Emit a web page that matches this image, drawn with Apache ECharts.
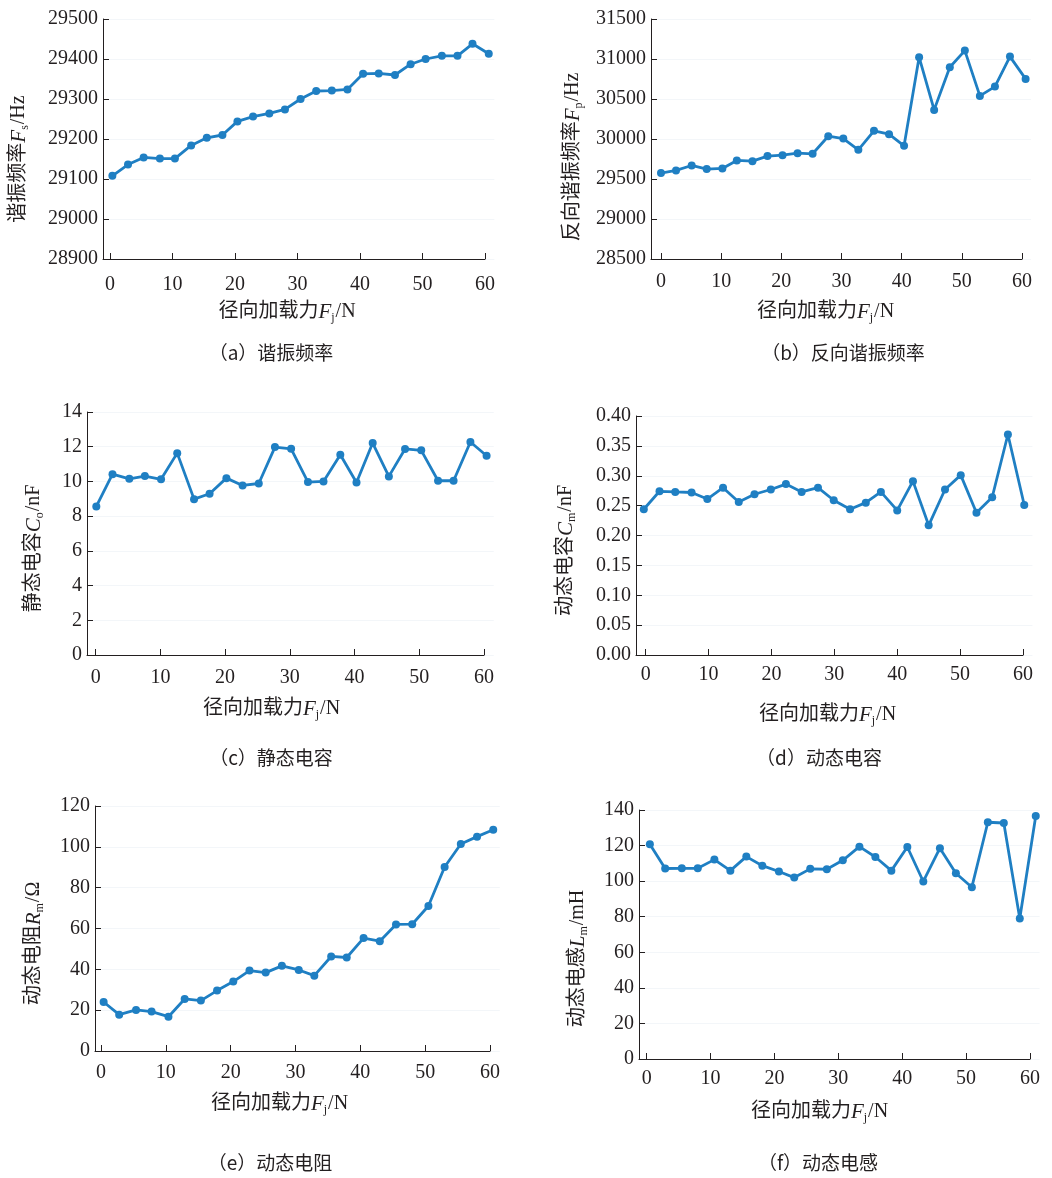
<!DOCTYPE html>
<html>
<head>
<meta charset="utf-8">
<script src="https://cdn.jsdelivr.net/npm/echarts@6/dist/echarts.min.js"></script>
<style>
  html, body { margin: 0; padding: 0; background: #ffffff; }
  #chart { width: 1052px; height: 1178px; }
</style>
</head>
<body>
<div id="chart"></div>
<script>
// Radial load (N) at each sample, per panel, and the measured parameters
const loadA = [0.4, 2.9, 5.4, 8.0, 10.4, 13.0, 15.5, 18.0, 20.4, 22.9, 25.5, 28.0, 30.5, 33.0, 35.5, 38.0, 40.5, 43.0, 45.6, 48.1, 50.5, 53.1, 55.6, 58.0, 60.6];
const resonantFreq = [29108, 29136, 29154, 29151, 29151, 29184, 29203, 29210, 29244, 29256, 29264, 29274, 29300, 29320, 29321, 29324, 29363, 29364, 29360, 29387, 29400, 29408, 29408, 29438, 29413];

const loadB = [0, 2.5, 5.1, 7.6, 10.2, 12.6, 15.2, 17.7, 20.2, 22.7, 25.2, 27.8, 30.3, 32.8, 35.4, 37.9, 40.4, 42.9, 45.4, 48.0, 50.5, 53.0, 55.5, 58.0, 60.6];
const antiResonantFreq = [29574, 29607, 29669, 29624, 29632, 29732, 29723, 29786, 29798, 29823, 29815, 30035, 30006, 29865, 30102, 30060, 29915, 31022, 30364, 30897, 31105, 30539, 30655, 31030, 30751];

const loadC = [0.1, 2.6, 5.2, 7.6, 10.1, 12.6, 15.2, 17.6, 20.2, 22.7, 25.2, 27.7, 30.2, 32.8, 35.2, 37.8, 40.3, 42.8, 45.3, 47.8, 50.3, 52.9, 55.3, 57.9, 60.4];
const staticCap = [8.56, 10.42, 10.15, 10.31, 10.12, 11.63, 8.98, 9.29, 10.19, 9.77, 9.88, 11.98, 11.88, 9.96, 10.0, 11.54, 9.94, 12.21, 10.29, 11.87, 11.79, 10.04, 10.04, 12.27, 11.48];

const loadD = [-0.3, 2.2, 4.7, 7.3, 9.8, 12.3, 14.8, 17.3, 19.9, 22.3, 24.8, 27.4, 29.9, 32.5, 35.0, 37.4, 40.0, 42.5, 45.0, 47.6, 50.1, 52.6, 55.1, 57.6, 60.2];
const motionalCap = [0.244, 0.274, 0.273, 0.272, 0.261, 0.280, 0.256, 0.269, 0.277, 0.286, 0.273, 0.280, 0.259, 0.244, 0.255, 0.273, 0.242, 0.291, 0.217, 0.277, 0.301, 0.238, 0.264, 0.369, 0.251];

const loadE = [0.4, 2.8, 5.4, 7.8, 10.4, 12.9, 15.4, 17.9, 20.4, 22.9, 25.4, 27.9, 30.5, 32.9, 35.5, 37.9, 40.5, 43.0, 45.5, 48.0, 50.5, 53.0, 55.5, 58.0, 60.5];
const motionalRes = [24.0, 17.8, 20.1, 19.3, 16.8, 25.5, 24.7, 29.6, 34.0, 39.4, 38.4, 41.7, 39.7, 36.9, 46.3, 45.8, 55.3, 53.8, 62.0, 62.1, 71.0, 90.1, 101.4, 105.0, 108.4];

const loadF = [0.5, 2.9, 5.5, 8.0, 10.6, 13.1, 15.6, 18.1, 20.7, 23.1, 25.6, 28.2, 30.7, 33.3, 35.8, 38.3, 40.8, 43.3, 45.9, 48.4, 50.9, 53.4, 55.9, 58.4, 60.9];
const motionalInd = [120.7, 107.1, 107.2, 107.2, 112.1, 105.9, 113.8, 108.7, 105.4, 102.0, 106.9, 106.7, 111.7, 119.4, 113.6, 105.9, 119.2, 99.8, 118.5, 104.4, 96.6, 133.1, 132.7, 79.0, 136.6];

const xTicks = [0, 10, 20, 30, 40, 50, 60];

const xName = '径向加载力{it|F}{sub|j}/N';
const yNames = [
  '谐振频率{it|F}{sub|s}/Hz',
  '反向谐振频率{it|F}{sub|p}/Hz',
  '静态电容{it|C}{sub|o}/nF',
  '动态电容{it|C}{sub|m}/nF',
  '动态电阻{it|R}{sub|m}/Ω',
  '动态电感{it|L}{sub|m}/mH'
];
const captions = ['（a）谐振频率', '（b）反向谐振频率', '（c）静态电容', '（d）动态电容', '（e）动态电阻', '（f）动态电感'];

const INK = '#231f20';
const BLUE = '#1f7fc3';
const SERIF = "'Liberation Serif', 'Times New Roman', serif";
const MIXED = "'Liberation Serif', 'Noto Sans CJK SC', serif";
const X_END = 60;      // the x axis line stops at the last tick
const X_ROOM = 61.5;   // plotting room so the last samples past 60 N stay visible

// Layout of the six small plots (grid spans the axis line from xMin to 60)
const panels = [
  { x: loadA, y: resonantFreq, grid: { left: 103, top: 19, width: 382, height: 240 }, xMin: -1.1,
    yMin: 28900, yMax: 29500, yStep: 100, yGap: 72, yShift: 40, xGap: 41, xShift: 14, lblGap: 16, cap: [271, 353] },
  { x: loadB, y: antiResonantFreq, grid: { left: 651, top: 19, width: 371, height: 240 }, xMin: -1.66,
    yMin: 28500, yMax: 31500, yStep: 500, yGap: 66, yShift: 36, xGap: 41, xShift: 22, lblGap: 13, cap: [843, 353] },
  { x: loadC, y: staticCap, grid: { left: 87, top: 412, width: 397, height: 243 }, xMin: -1.34,
    yMin: 0, yMax: 14, yStep: 2, yGap: 41, yShift: 30, xGap: 42, xShift: 28, lblGap: 13, cap: [271, 758] },
  { x: loadD, y: motionalCap, grid: { left: 636, top: 416, width: 387, height: 239 }, xMin: -1.54,
    yMin: 0, yMax: 0.4, yStep: 0.05, yGap: 58, yShift: 30, xGap: 48, xShift: 4, lblGap: 10, cap: [819, 758], dec: 2 },
  { x: loadE, y: motionalRes, grid: { left: 95, top: 806, width: 395, height: 245 }, xMin: -0.93,
    yMin: 0, yMax: 120, yStep: 20, yGap: 49, yShift: 30, xGap: 41, xShift: 26, lblGap: 12, cap: [270, 1163] },
  { x: loadF, y: motionalInd, grid: { left: 639, top: 810, width: 391, height: 249 }, xMin: -1.2,
    yMin: 0, yMax: 140, yStep: 20, yGap: 49, yShift: 48, xGap: 41, xShift: 30, lblGap: 10, cap: [818, 1163] }
];

function nameStyle(pad) {
  return {
    fontFamily: MIXED,
    fontSize: 20,
    color: INK,
    lineHeight: 24,
    padding: pad,
    rich: {
      it: { fontFamily: SERIF, fontStyle: 'italic', fontSize: 21, color: INK, lineHeight: 24 },
      sub: { fontFamily: SERIF, fontSize: 12, color: INK, lineHeight: 12, verticalAlign: 'bottom', padding: [12, 1, 0, 0] }
    }
  };
}

const option = {
  backgroundColor: '#ffffff',
  animation: false,
  grid: [],
  xAxis: [],
  yAxis: [],
  series: [],
  graphic: []
};

const n = panels.length;

panels.forEach((p, i) => {
  const pxPerUnit = p.grid.width / (X_END - p.xMin);
  // plotting grid, a little wider than the axis line
  option.grid[i] = {
    left: p.grid.left, top: p.grid.top, height: p.grid.height,
    width: pxPerUnit * (X_ROOM - p.xMin), containLabel: false
  };
  // companion grid carrying only the x axis line up to 60 N
  option.grid[n + i] = {
    left: p.grid.left, top: p.grid.top, height: p.grid.height,
    width: p.grid.width, containLabel: false
  };

  option.xAxis[i] = {
    type: 'value',
    gridIndex: i,
    min: p.xMin,
    max: X_ROOM,
    name: xName,
    nameLocation: 'middle',
    nameGap: p.xGap,
    nameTextStyle: nameStyle([0, p.xShift + (X_ROOM - X_END) * pxPerUnit, 0, 0]),
    axisLine: { show: false, onZero: false },
    axisTick: { show: true, inside: true, length: 6, customValues: xTicks, lineStyle: { color: INK } },
    axisLabel: { customValues: xTicks, fontFamily: SERIF, fontSize: 20, color: INK, margin: p.lblGap },
    splitLine: { show: false }
  };
  option.xAxis[n + i] = {
    type: 'value',
    gridIndex: n + i,
    min: p.xMin,
    max: X_END,
    axisLine: { show: true, onZero: false, lineStyle: { color: INK, width: 1 } },
    axisTick: { show: false },
    axisLabel: { show: false },
    splitLine: { show: false }
  };

  option.yAxis[i] = {
    type: 'value',
    gridIndex: i,
    min: p.yMin,
    max: p.yMax,
    interval: p.yStep,
    name: yNames[i],
    nameLocation: 'middle',
    nameRotate: 90,
    nameGap: p.yGap,
    nameTextStyle: nameStyle([0, p.yShift, 0, 0]),
    axisLine: { show: true, onZero: false, lineStyle: { color: INK, width: 1 } },
    axisTick: { show: true, inside: true, length: 6, lineStyle: { color: INK } },
    axisLabel: {
      fontFamily: SERIF, fontSize: 20, color: INK, margin: 5,
      formatter: p.dec ? (v => v.toFixed(p.dec)) : (v => String(v))
    },
    splitLine: { show: true, lineStyle: { color: '#f3f6f9', width: 1 } }
  };
  option.yAxis[n + i] = { type: 'value', gridIndex: n + i, min: 0, max: 1, show: false };

  option.series.push({
    type: 'line',
    xAxisIndex: i,
    yAxisIndex: i,
    data: p.x.map((v, k) => [v, p.y[k]]),
    clip: false,
    symbol: 'circle',
    symbolSize: 8,
    itemStyle: { color: BLUE },
    lineStyle: { color: BLUE, width: 2.8 },
    z: 3
  });

  option.graphic.push({
    type: 'text',
    x: p.cap[0],
    y: p.cap[1],
    style: {
      text: captions[i],
      fontFamily: "'Noto Sans CJK SC', sans-serif",
      fontSize: 19,
      fill: INK,
      align: 'center',
      verticalAlign: 'middle'
    }
  });
});

const chart = echarts.init(document.getElementById('chart'), null, { renderer: 'canvas' });
chart.setOption(option);
</script>
</body>
</html>
